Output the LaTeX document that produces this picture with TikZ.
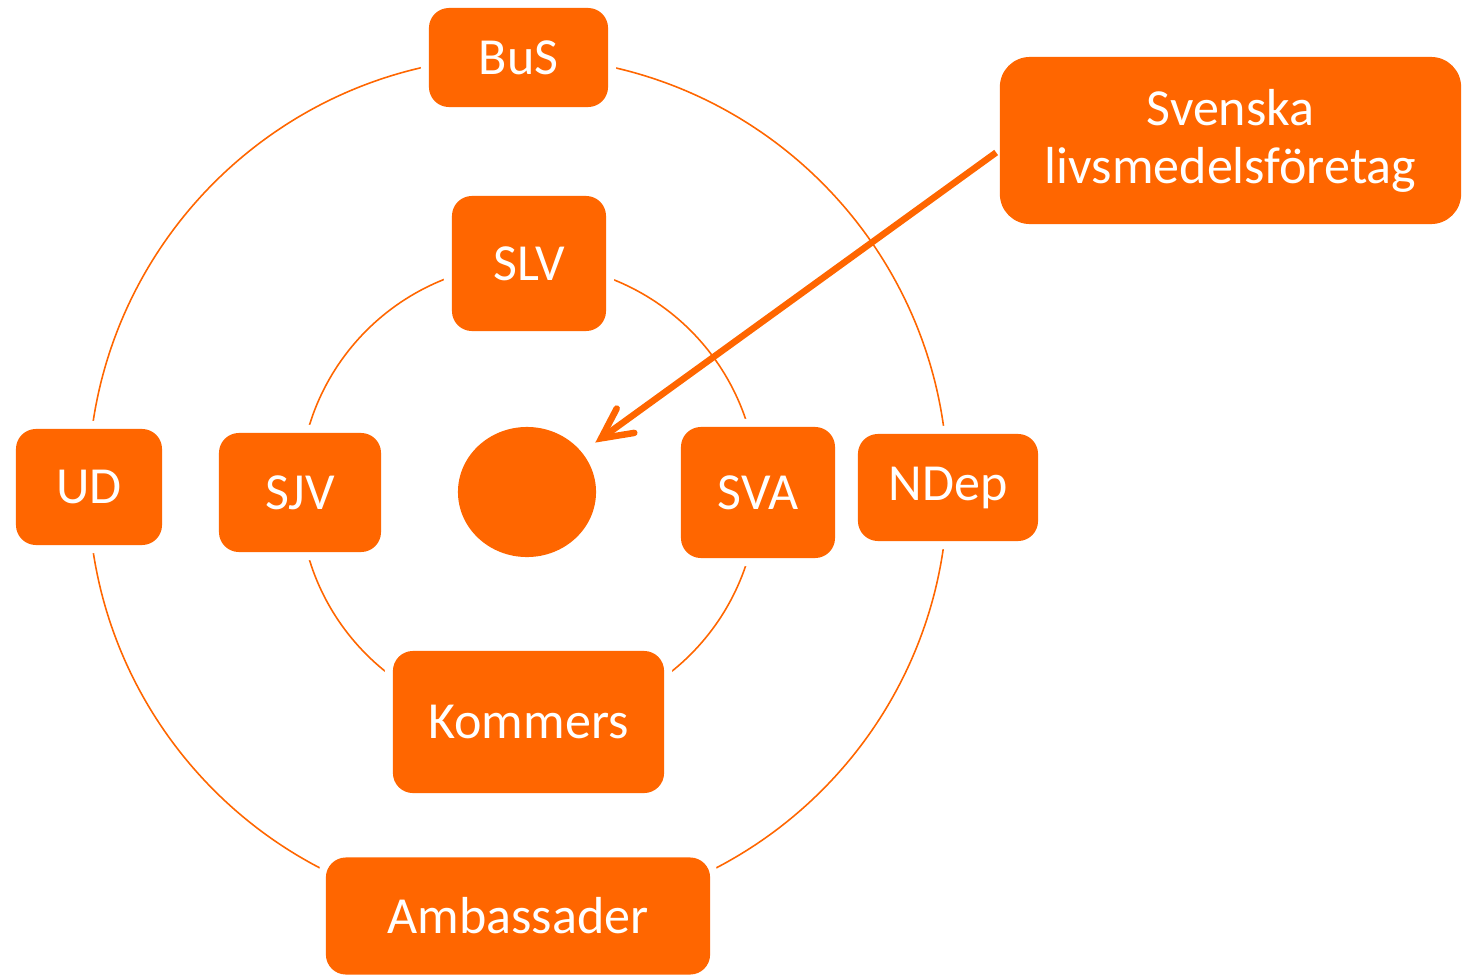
\documentclass[tikz,border=0pt]{standalone}
\usepackage{fontspec}
\setmainfont{Carlito}
\usepackage{tikz}
\usetikzlibrary{arrows.meta}
\definecolor{signalorange}{RGB}{255, 102, 0}
\usetikzlibrary{shapes.geometric,positioning}

\begin{document}
\begin{tikzpicture}
    [x=0.01cm, y=-0.01cm,
    agency/.style={rectangle, rounded corners=.2cm, fill=signalorange, text=white, text centered, inner sep=0pt,
      font=\fontsize{14.8}{16.5}\selectfont, preaction={draw=white, line width=.16cm}},
    hub/.style={ellipse, fill=signalorange, inner sep=0pt, minimum width=1.38cm, minimum height=1.3cm},
    ring/.style={draw=signalorange, line width=.45pt}]
    \useasboundingbox (0,0) rectangle (1465,975);

    % the two rings
    \draw[ring] (518,486.5) circle [radius=4.295cm];
    \draw[ring] (528.5,492.5) circle [radius=2.29cm];

    % outer ring
    \node (bus) [agency, minimum width=1.79cm, minimum height=.99cm] at (518.5,57.5) {BuS};
    \node (ud) [agency, minimum width=1.46cm, minimum height=1.16cm] at (89,487) {UD};
    \node (ndep) [agency, minimum width=1.8cm, minimum height=1.07cm] at (948,487.5) {NDep};
    \node (amb) [agency, minimum width=3.84cm, minimum height=1.17cm] at (518,916) {Ambassader};

    % inner ring
    \node (slv) [agency, minimum width=1.54cm, minimum height=1.35cm] at (529,263.5) {SLV};
    \node (sjv) [agency, minimum width=1.62cm, minimum height=1.19cm] at (300,492.5) {SJV};
    \node (sva) [agency, minimum width=1.54cm, minimum height=1.31cm] at (758,492.5) {SVA};
    \node (kommers) [agency, minimum width=2.71cm, minimum height=1.42cm] at (528.5,722) {Kommers};

    \node (core) [hub] at (527,492) {};

    \node (svenska) [agency, rounded corners=.3cm, align=center, minimum width=4.61cm, minimum height=1.67cm] at (1230.5,140.5) {Svenska\\livsmedelsföretag};
    \draw[signalorange, line width=.065cm, shorten >=.16cm, -{Straight Barb[length=.3cm, width=.3cm, line cap=round]}] ([yshift=-.12cm,xshift=-.03cm]svenska.west) -- (core);

  \end{tikzpicture}
\end{document}
